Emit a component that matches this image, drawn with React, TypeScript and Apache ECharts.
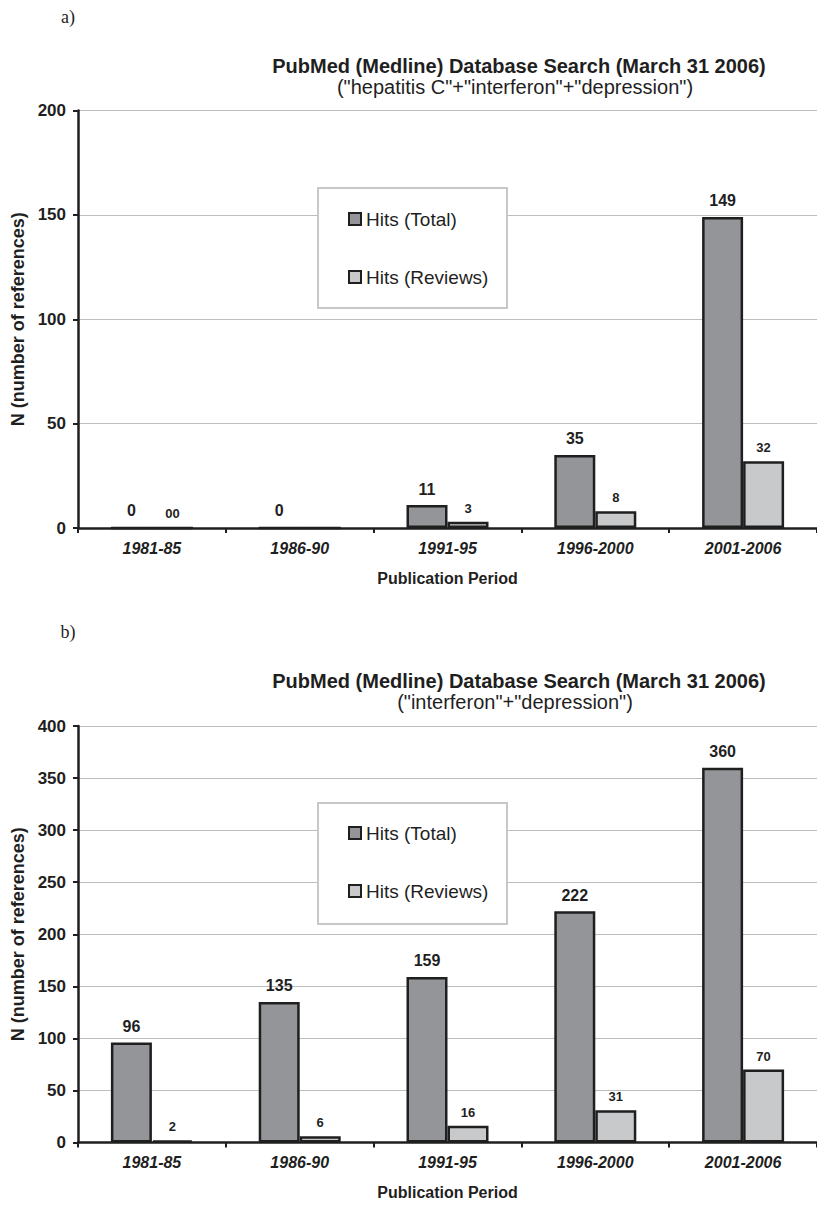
import React, { useEffect, useRef } from "react";
import * as echarts from "echarts";

const categories = ["1981-85", "1986-90", "1991-95", "1996-2000", "2001-2006"];
const totalA = [0, 0, 11, 35, 149];
const reviewsA = [0, 0, 3, 8, 32];
const totalLabelsA = ["0", "0", "11", "35", "149"];
const reviewLabelsA = ["00", "", "3", "8", "32"];
const totalB = [96, 135, 159, 222, 360];
const reviewsB = [2, 6, 16, 31, 70];
const maxA = 200;
const maxB = 400;
const tickStep = 50;

const titleText = "PubMed (Medline) Database Search (March 31 2006)";
const subA = '("hepatitis C"+"interferon"+"depression")';
const subB = '("interferon"+"depression")';
const seriesNames = ["Hits (Total)", "Hits (Reviews)"];

const FONT = "'Liberation Sans', Arial, Helvetica, sans-serif";
const TOTAL_COLOR = "#939598";
const REVIEW_COLOR = "#c8c9cb";
const INK = "#1f1f1f";

export default function App() {
  const ref = useRef<HTMLDivElement>(null);
  useEffect(() => {
    if (!ref.current) return;
    const chart = echarts.init(ref.current, undefined, { renderer: "svg" });

    const grids = [
      { left: 78, right: -7, top: 110.5, height: 417.5 },
      { left: 78, right: -7, top: 726, height: 416.5 },
    ];

    const xAxis = [0, 1].map((i) => ({
      type: "category",
      gridIndex: i,
      data: categories,
      axisLine: { lineStyle: { color: INK, width: 2.5 } },
      axisTick: { show: true, length: 5, lineStyle: { color: INK, width: 2 } },
      axisLabel: {
        margin: 12,
        fontFamily: FONT,
        fontSize: 16,
        fontWeight: "bold",
        fontStyle: "italic",
        color: INK,
      },
      name: "Publication Period",
      nameLocation: "middle",
      nameGap: 42,
      nameTextStyle: { fontFamily: FONT, fontSize: 16, fontWeight: "bold", color: INK },
    }));

    const yAxis = [maxA, maxB].map((mx, i) => ({
      type: "value",
      gridIndex: i,
      min: 0,
      max: mx,
      interval: tickStep,
      axisLine: { show: true, lineStyle: { color: INK, width: 2.5 } },
      axisTick: { show: true, length: 5, lineStyle: { color: INK, width: 2 } },
      axisLabel: { margin: 12, fontFamily: FONT, fontSize: 17, fontWeight: "bold", color: INK },
      splitLine: { show: true, lineStyle: { color: "#bdbdbd", width: 1 } },
      name: "N (number of references)",
      nameLocation: "middle",
      nameGap: 50,
      nameRotate: 90,
      nameTextStyle: { fontFamily: FONT, fontSize: 18, fontWeight: "bold", color: INK },
    }));

    const barCommon = {
      type: "bar",
      barWidth: 41,
      barGap: "0%",
    };

    const totalLabel = {
      show: true,
      position: "top",
      distance: 8,
      fontFamily: FONT,
      fontSize: 16,
      fontWeight: "bold",
      color: INK,
    };
    const reviewLabel = {
      show: true,
      position: "top",
      distance: 7,
      fontFamily: FONT,
      fontSize: 13,
      fontWeight: "bold",
      color: INK,
    };

    const series = [
      {
        ...barCommon,
        name: seriesNames[0],
        xAxisIndex: 0,
        yAxisIndex: 0,
        data: totalA,
        itemStyle: { color: TOTAL_COLOR, borderColor: INK, borderWidth: 2.5 },
        label: { ...totalLabel, formatter: (p: any) => totalLabelsA[p.dataIndex] },
      },
      {
        ...barCommon,
        name: seriesNames[1],
        xAxisIndex: 0,
        yAxisIndex: 0,
        data: reviewsA,
        itemStyle: { color: REVIEW_COLOR, borderColor: INK, borderWidth: 2.5 },
        label: { ...reviewLabel, formatter: (p: any) => reviewLabelsA[p.dataIndex] },
      },
      {
        ...barCommon,
        name: seriesNames[0],
        xAxisIndex: 1,
        yAxisIndex: 1,
        data: totalB,
        itemStyle: { color: TOTAL_COLOR, borderColor: INK, borderWidth: 2.5 },
        label: totalLabel,
      },
      {
        ...barCommon,
        name: seriesNames[1],
        xAxisIndex: 1,
        yAxisIndex: 1,
        data: reviewsB,
        itemStyle: { color: REVIEW_COLOR, borderColor: INK, borderWidth: 2.5 },
        label: reviewLabel,
      },
    ];

    const legendCommon = {
      orient: "vertical",
      left: 343,
      itemWidth: 12,
      itemHeight: 12,
      itemGap: 38,
      icon: "rect",
      selectedMode: false,
      z: 10,
      textStyle: { fontFamily: FONT, fontSize: 19, color: INK, lineHeight: 20 },
      data: seriesNames,
    };

    const txt = (text: string, x: number, y: number, size: number, weight: string, family = FONT) => ({
      type: "text",
      x,
      y,
      z: 10,
      style: {
        text,
        fontFamily: family,
        fontSize: size,
        fontWeight: weight,
        fill: INK,
        textAlign: "center",
        textVerticalAlign: "middle",
        align: "center",
        verticalAlign: "middle",
      },
    });

    const box = (y: number, h: number) => ({
      type: "rect",
      z: 5,
      shape: { x: 318, y, width: 189, height: h },
      style: { fill: "#ffffff", stroke: "#c8c8c8", lineWidth: 2 },
    });

    const SERIF = "'Liberation Serif', 'Times New Roman', serif";

    chart.setOption({
      animation: false,
      backgroundColor: "#ffffff",
      grid: grids,
      xAxis,
      yAxis,
      series,
      legend: [
        { ...legendCommon, top: 204 },
        { ...legendCommon, top: 818 },
      ],
      graphic: [
        txt("a)", 68, 17, 18, "normal", SERIF),
        txt(titleText, 519, 66, 20, "bold"),
        txt(subA, 515, 87, 20, "normal"),
        box(188, 120),
        txt("b)", 68, 632, 18, "normal", SERIF),
        txt(titleText, 519, 681, 20, "bold"),
        txt(subB, 515, 702, 20, "normal"),
        box(803, 121),
      ],
    });

    return () => chart.dispose();
  }, []);

  return (
    <div
      ref={ref}
      style={{ position: "absolute", left: 0, top: 0, width: 817, height: 1206 }}
    />
  );
}
